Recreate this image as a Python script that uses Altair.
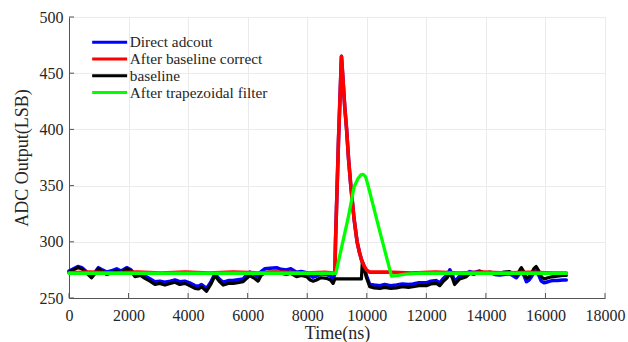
import altair as alt
import pandas as pd

# ---------------- data ----------------
series_names = ["Direct adcout", "After baseline correct", "baseline", "After trapezoidal filter"]
series_colors = ["#0000ff", "#ff0000", "#000000", "#00ff00"]

x_ticks = [0, 2000, 4000, 6000, 8000, 10000, 12000, 14000, 16000, 18000]
y_ticks = [250, 300, 350, 400, 450, 500]

t_base = [0, 150, 300, 430, 600, 760, 880, 990, 1120, 1265, 1400, 1600, 1750, 1935, 2080, 2215,
          2400, 2550, 2720, 2885, 3050, 3220, 3400, 3560, 3720, 3890, 4050, 4230, 4350, 4450,
          4620, 4760, 4900, 5040, 5180, 5350, 5510, 5620, 5850, 5950, 6070, 6200, 6350, 6450,
          6580, 6750, 6970, 7120, 7300, 7450, 7640, 7800, 7980, 8100, 8200, 8310, 8450, 8650,
          8780, 8870, 8930, 9820, 9850, 9990, 10100, 10250, 10440, 10600, 10800, 11000, 11200,
          11400, 11550, 11750, 12000, 12150, 12340, 12450, 12560, 12700, 12790, 12870, 12950,
          13050, 13120, 13250, 13345, 13460, 13600, 13790, 13950, 14130, 14300, 14460, 14600,
          14800, 14900, 15020, 15100, 15190, 15280, 15360, 15450, 15530, 15610, 15690, 15780,
          15860, 15950, 16030, 16150, 16250, 16400, 16590, 16700]
baseline = [273, 275, 277, 276, 272, 268, 272, 276, 274, 271, 272, 274, 272, 276, 274, 269,
            270, 267.5, 265, 262, 263, 261.5, 263, 264, 262, 263, 261, 258.5, 258, 260,
            256, 262, 270, 265, 261.5, 263, 263, 263.5, 264.5, 267, 270, 268, 265, 270,
            272.5, 273, 273, 272, 271, 272, 269, 270, 269, 266, 265, 266, 268, 267.5,
            266, 263, 267, 267, 282, 268, 260, 259, 258.5, 259.5, 258.5, 259, 260,
            259.5, 260, 261, 261, 262.5, 263, 261, 264.5, 268, 272, 268, 262,
            265, 267, 268, 269, 272, 271, 273.5, 272, 273, 272, 272, 273,
            273.5, 272, 270, 273, 277, 273, 267.5, 269, 272, 276, 278, 274,
            269, 267, 267.5, 268.5, 269, 269.5, 270, 270]

t_direct = [0, 150, 300, 430, 600, 760, 880, 990, 1120, 1265, 1400, 1600, 1750, 1935, 2080, 2215,
            2400, 2550, 2720, 2885, 3050, 3220, 3400, 3560, 3720, 3890, 4050, 4230, 4350, 4450,
            4620, 4760, 4900, 5040, 5180, 5350, 5510, 5620, 5850, 5950, 6070, 6200, 6350, 6450,
            6580, 6750, 6970, 7120, 7300, 7450, 7640, 7800, 7980, 8100, 8200, 8310, 8450, 8650,
            8780, 8870, 8930, 8950, 9050, 9150, 9200, 9260, 9320, 9390, 9463, 9575, 9675, 9750,
            9822, 9900, 9990, 10100, 10250, 10440, 10600, 10800, 11000, 11200,
            11400, 11550, 11750, 12000, 12150, 12340, 12450, 12560, 12700, 12790, 12870, 12950,
            13050, 13120, 13250, 13345, 13460, 13600, 13790, 13950, 14130, 14300, 14460, 14600,
            14800, 14900, 15020, 15100, 15190, 15280, 15360, 15450, 15530, 15610, 15690, 15780,
            15860, 15950, 16030, 16150, 16250, 16400, 16590, 16700]
direct = [274, 276, 278, 277, 273, 270, 273, 277, 275, 273, 274, 276, 274, 277, 275, 271,
          272, 269.5, 267, 264.5, 265, 264, 265, 266, 264.5, 265, 263.5, 261, 260.5, 262,
          258.5, 264, 271.5, 267, 264, 265.5, 265.5, 266, 267, 270, 273, 271.5, 268.5, 273.5,
          276, 276.5, 277, 275.5, 275, 276, 273, 273.5, 272.5, 270, 268.5, 269.5, 271.5, 271,
          269.5, 266.5, 272, 300, 390, 465, 445, 420, 401, 373, 350, 320, 300, 291,
          284, 279, 270, 262, 261.5, 261, 262, 261, 261.5, 262.5,
          262, 262.5, 263.5, 263.5, 265, 265.5, 263.5, 267, 270.5, 275, 271, 264.5,
          267.5, 269.5, 270.5, 271.5, 273.5, 272.5, 274, 272, 272.5, 271, 270.5, 271,
          271.5, 270, 268, 270.5, 274, 270, 264.5, 266, 269, 272.5, 274, 270,
          265, 263.5, 264, 265, 265.5, 265.5, 266, 266]

t_corr = [0, 700, 1500, 2300, 3100, 3900, 4700, 5500, 6300, 7100, 7900, 8600, 8930, 8950, 9050,
          9150, 9200, 9260, 9320, 9390, 9463, 9575, 9675, 9750, 9822, 9900, 9990, 10100, 10700,
          11500, 12300, 13100, 13900, 14700, 15500, 16300, 16700]
corrected = [272.5, 273, 272.3, 273, 272.3, 273, 272.3, 273, 272.3, 273, 272.3, 272.8,
             272, 300, 390, 465, 445, 420, 401, 373, 350, 320, 300, 291, 284, 279, 275, 273,
             273, 272.3, 273, 272.3, 273, 272.3, 272.8, 272.3, 272.3]

t_trap = [0, 8960, 9373, 9575, 9700, 9800, 9880, 9960, 10045, 10450, 10830, 11000, 11300, 11700, 16700]
trapezoid = [272, 272, 321, 349, 356, 359.5, 360, 358, 350, 308, 269.5, 270, 271.3, 272, 272]

# ---------------- tables ----------------
def frame(name, ts, vs):
    return pd.DataFrame({"series": name, "t": ts, "v": vs})

df_direct = frame(series_names[0], t_direct, direct)
df_corr = frame(series_names[1], t_corr, corrected)
df_base = frame(series_names[2], t_base, baseline)
df_trap = frame(series_names[3], t_trap, trapezoid)

FONT = "Liberation Serif"
TXT = "#262626"
W, H = 536, 281

x_enc = alt.X("t:Q", scale=alt.Scale(domain=[0, 18000], nice=False),
              axis=alt.Axis(values=x_ticks, title="Time(ns)", format="d", labelFlush=False))
y_enc = alt.Y("v:Q", scale=alt.Scale(domain=[250, 500], nice=False, zero=False),
              axis=alt.Axis(values=y_ticks, title="ADC Output(LSB)", labelFlush=False))
color_enc = alt.Color(
    "series:N",
    scale=alt.Scale(domain=series_names, range=series_colors),
    legend=alt.Legend(
        title=None, orient="none", legendX=33, legendY=17.5, padding=0,
        symbolType="M-3,0H3", symbolSize=136, symbolStrokeWidth=3,
        labelOffset=12.5, rowPadding=0.8, labelFont=FONT, labelFontSize=15.3,
        labelColor=TXT, labelLimit=300,
    ),
)

def line(df, width):
    return alt.Chart(df).mark_line(strokeWidth=width, strokeJoin="round", strokeCap="round").encode(
        x=x_enc, y=y_enc, color=color_enc, order=alt.Order("t:Q"))

ticks_x = alt.Chart(pd.DataFrame({"t": x_ticks})).mark_rule(color="#555555", strokeWidth=1).encode(
    x=alt.X("t:Q"), y=alt.value(H - 5), y2=alt.value(H))
ticks_y = alt.Chart(pd.DataFrame({"v": y_ticks})).mark_rule(color="#555555", strokeWidth=1).encode(
    y=alt.Y("v:Q"), x=alt.value(0), x2=alt.value(5))

chart = alt.layer(
    line(df_direct, 3.5),
    line(df_base, 3.2),
    line(df_corr, 3.6),
    line(df_trap, 3.3),
    ticks_x,
    ticks_y,
).properties(
    width=W, height=H,
    autosize=alt.AutoSizeParams(type="none"),
    padding={"left": 69, "top": 17, "right": 23, "bottom": 44},
    background="white",
).configure_view(
    stroke="#e3e3e3", strokeWidth=1,
).configure_axis(
    grid=True, gridColor="#ebebeb", gridWidth=1,
    domainColor="#555555", domainWidth=1, ticks=False,
    labelFont=FONT, labelFontSize=16, labelColor=TXT,
    titleFont=FONT, titleFontSize=18, titleColor=TXT, titleFontWeight="normal",
).configure_axisX(
    labelPadding=9, titlePadding=1,
).configure_axisY(
    labelPadding=6, titlePadding=8,
)

chart.save("out.html", embed_options={"renderer": "svg", "actions": False})
